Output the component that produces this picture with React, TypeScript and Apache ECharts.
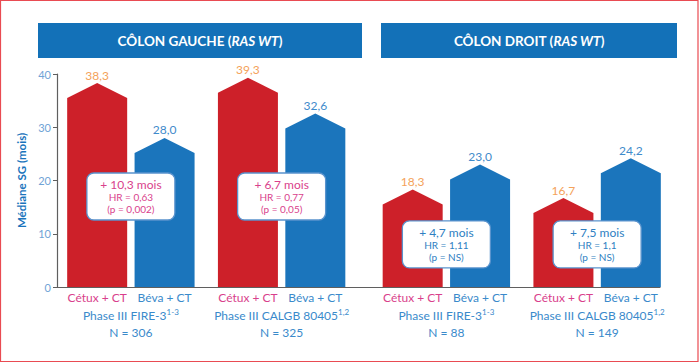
import React, { useEffect, useRef } from "react";
import * as echarts from "echarts";

// ---------- data ----------
const panels = ["CÔLON GAUCHE", "CÔLON DROIT"];
const panelMutation = "RAS WT";
const trialNames = ["Phase III FIRE-3", "Phase III CALGB 80405", "Phase III FIRE-3", "Phase III CALGB 80405"];
const trialRefs = ["1-3", "1,2", "1-3", "1,2"];
const trialPanel = [0, 0, 1, 1];
const sampleSizes = [306, 325, 88, 149];
const armNames = ["Cétux + CT", "Béva + CT"];
const cetuxMedians = [38.3, 39.3, 18.3, 16.7];
const bevaMedians = [28.0, 32.6, 23.0, 24.2];
const medianGains = [10.3, 6.7, 4.7, 7.5];
const hazardRatios = ["0,63", "0,77", "1,11", "1,1"];
const pValues = ["0,002", "0,05", "NS", "NS"];
const yTicks = [0, 10, 20, 30, 40];
const yAxisTitle = "Médiane SG (mois)";

// ---------- style / layout ----------
const FONT = "Lato, 'Noto Sans', sans-serif";
const RED = "#CD2029";
const BLUE = "#1B75BC";
const HEADER_BLUE = "#1371B8";
const ORANGE = "#F4A25A";
const VAL_BLUE = "#3F8BCB";
const PINK = "#D93F8C";
const LABEL_BLUE = "#3A8ACB";
const TICK_BLUE = "#6FA3D6";
const BOX_STROKE = "#5A93CD";
const BAR_W = 60;
const PAIR_OFFSET = 33.7;
const ROOF = 15;
const PANEL_SHIFT = [-1.5, 12.5];
const ANNOT_LEVEL = [17, 8];
const BOX_W = 88;
const BOX_H = 47;
const BOX_TEXT = [PINK, "#2F7FC2"];

const fmt = (v: number) => v.toFixed(1).replace(".", ",");

const renderTrial = (_params: any, api: any) => {
  const i = api.value(0) as number;
  const vals = [api.value(1) as number, api.value(2) as number];
  const base = api.coord([i, 0]);
  const panel = trialPanel[i];
  const cx = base[0] + PANEL_SHIFT[panel];
  const baseY = base[1];
  const children: any[] = [];
  vals.forEach((v, k) => {
    const bx = cx + (k === 0 ? -PAIR_OFFSET : PAIR_OFFSET);
    const peakY = api.coord([i, v])[1];
    const l = bx - BAR_W / 2;
    const r = bx + BAR_W / 2;
    children.push({
      type: "polygon",
      shape: { points: [[l, baseY], [l, peakY + ROOF], [bx, peakY], [r, peakY + ROOF], [r, baseY]] },
      style: { fill: k === 0 ? RED : BLUE },
    });
    children.push({
      type: "text",
      style: {
        text: fmt(v), x: bx, y: peakY - 2, align: "center", verticalAlign: "bottom",
        fill: k === 0 ? ORANGE : VAL_BLUE, fontSize: 12, fontFamily: FONT,
      },
    });
    children.push({
      type: "text",
      style: {
        text: armNames[k], x: bx, y: baseY + 10.5, align: "center", verticalAlign: "middle",
        fill: k === 0 ? PINK : LABEL_BLUE, fontSize: 12, fontFamily: FONT,
      },
    });
  });
  children.push({
    type: "text",
    style: {
      text: `{t|${trialNames[i]}}{s|${trialRefs[i]}}`, x: cx, y: baseY + 28, align: "center", verticalAlign: "middle",
      rich: {
        t: { fill: LABEL_BLUE, fontSize: 12, fontFamily: FONT, lineHeight: 14 },
        s: { fill: LABEL_BLUE, fontSize: 8, fontFamily: FONT, lineHeight: 14, verticalAlign: "top" },
      },
    },
  });
  children.push({
    type: "text",
    style: {
      text: `N = ${sampleSizes[i]}`, x: cx, y: baseY + 45.5, align: "center", verticalAlign: "middle",
      fill: LABEL_BLUE, fontSize: 12, fontFamily: FONT,
    },
  });
  const by = api.coord([i, ANNOT_LEVEL[panel]])[1];
  children.push({
    type: "rect",
    shape: { x: cx - BOX_W / 2, y: by - BOX_H / 2, width: BOX_W, height: BOX_H, r: 7 },
    style: { fill: "#ffffff", stroke: BOX_STROKE, lineWidth: 1.3 },
  });
  const tc = BOX_TEXT[panel];
  children.push({
    type: "text",
    style: { text: `+ ${fmt(medianGains[i])} mois`, x: cx, y: by - 12, align: "center", verticalAlign: "middle", fill: tc, fontSize: 12, lineHeight: 12, fontFamily: FONT },
  });
  children.push({
    type: "text",
    style: { text: `HR = ${hazardRatios[i]}`, x: cx, y: by + 0.5, align: "center", verticalAlign: "middle", fill: tc, fontSize: 10, lineHeight: 11, fontFamily: FONT },
  });
  children.push({
    type: "text",
    style: { text: `(p = ${pValues[i]})`, x: cx, y: by + 12.5, align: "center", verticalAlign: "middle", fill: tc, fontSize: 10, lineHeight: 11, fontFamily: FONT },
  });
  return { type: "group", children };
};

const headerText = (name: string) => `{a|${name} (}{i|${panelMutation}}{a|)}`;
const headerRich = {
  a: { fill: "#ffffff", fontSize: 13.5, fontWeight: "bold", fontFamily: FONT },
  i: { fill: "#ffffff", fontSize: 13.5, fontWeight: "bold", fontStyle: "italic", fontFamily: FONT },
};

export default function App() {
  const ref = useRef<HTMLDivElement>(null);
  useEffect(() => {
    if (!ref.current) return;
    const chart = echarts.init(ref.current, undefined, { renderer: "svg" });
    chart.setOption({
      animation: false,
      backgroundColor: "#ffffff",
      grid: { left: 57, right: 40, top: 74, bottom: 76, containLabel: false },
      xAxis: {
        type: "category",
        data: trialNames.map((n, i) => `${n} ${i}`),
        boundaryGap: true,
        axisLine: { show: true, lineStyle: { color: "#5f5f5f", width: 1.2 } },
        axisTick: { show: false },
        axisLabel: { show: false },
        splitLine: { show: false },
      },
      yAxis: {
        type: "value",
        min: yTicks[0],
        max: yTicks[yTicks.length - 1],
        interval: yTicks[1] - yTicks[0],
        name: yAxisTitle,
        nameLocation: "middle",
        nameGap: 26,
        nameTextStyle: { color: "#1A74BC", fontSize: 11.5, fontWeight: "bold", fontFamily: FONT },
        axisLine: { show: true, lineStyle: { color: "#5f5f5f", width: 1.2 } },
        axisTick: { show: true, inside: false, length: 4, lineStyle: { color: "#5f5f5f" } },
        axisLabel: { color: TICK_BLUE, fontSize: 11, fontFamily: FONT, margin: 6 },
        splitLine: { show: false },
      },
      graphic: [
        { type: "rect", shape: { x: 0.5, y: 0.5, width: 697.5, height: 361 }, style: { fill: "none", stroke: "#E94B52", lineWidth: 1.2 }, silent: true },
        { type: "rect", shape: { x: 38, y: 23, width: 324, height: 35 }, style: { fill: HEADER_BLUE } },
        { type: "text", x: 200, y: 41, style: { text: headerText(panels[0]), rich: headerRich, align: "center", verticalAlign: "middle" } },
        { type: "rect", shape: { x: 381, y: 23, width: 296, height: 35 }, style: { fill: HEADER_BLUE } },
        { type: "text", x: 529, y: 41, style: { text: headerText(panels[1]), rich: headerRich, align: "center", verticalAlign: "middle" } },
      ],
      series: [
        {
          type: "custom",
          clip: false,
          renderItem: renderTrial,
          data: trialNames.map((_, i) => [i, cetuxMedians[i], bevaMedians[i]]),
          encode: { x: 0, y: [1, 2] },
        },
      ],
    });
    return () => chart.dispose();
  }, []);
  return <div ref={ref} style={{ position: "absolute", left: 0, top: 0, width: 700, height: 363 }} />;
}
